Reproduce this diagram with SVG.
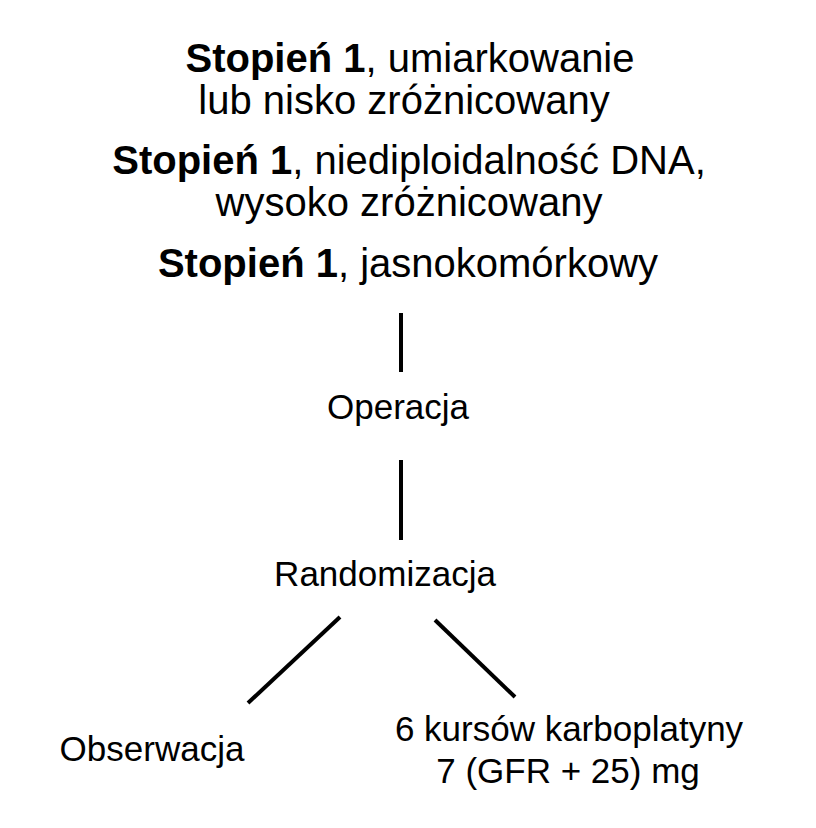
<svg xmlns="http://www.w3.org/2000/svg" width="816" height="828" viewBox="0 0 816 828">
<style>
text{font-family:"Liberation Sans",Arial,sans-serif;font-size:35px;fill:#000;text-anchor:middle}
.h{font-size:40px}
.b{font-weight:bold}
.c line{stroke:#000;stroke-width:4}
</style>
<rect width="816" height="828" fill="#fff"/>
<g id="header">
<text class="h" x="410" y="72"><tspan class="b">Stopień 1</tspan>, umiarkowanie</text>
<text class="h" x="404" y="114">lub nisko zróżnicowany</text>
<text class="h" x="409" y="174"><tspan class="b">Stopień 1</tspan>, niediploidalność DNA,</text>
<text class="h" x="409" y="216">wysoko zróżnicowany</text>
<text class="h" x="408" y="277"><tspan class="b">Stopień 1</tspan>, jasnokomórkowy</text>
</g>
<g id="operacja"><text x="398" y="419">Operacja</text></g>
<g id="randomizacja"><text x="385" y="586">Randomizacja</text></g>
<g id="obserwacja"><text x="152" y="761">Obserwacja</text></g>
<g id="karboplatyna">
<text x="569" y="741">6 kursów karboplatyny</text>
<text x="568" y="783">7 (GFR + 25) mg</text>
</g>
<g class="c" id="connectors">
<line x1="401" y1="313" x2="401" y2="372"/>
<line x1="401" y1="460" x2="401" y2="540"/>
<line x1="340" y1="617" x2="248" y2="703"/>
<line x1="435" y1="620" x2="515" y2="697"/>
</g>
</svg>
